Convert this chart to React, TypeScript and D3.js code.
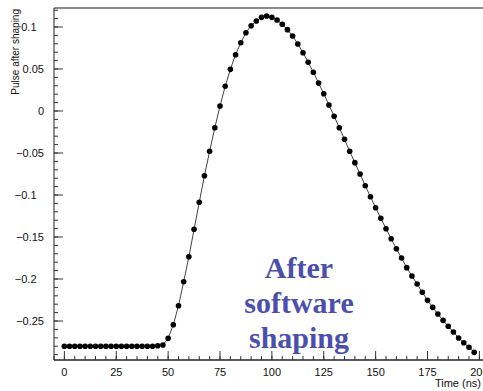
import React from "react";
import * as d3 from "d3";

const times: number[] = [
  0, 2.5, 5, 7.5, 10, 12.5, 15, 17.5, 20, 22.5, 25, 27.5, 30, 32.5, 35, 37.5, 40, 42.5,
  45, 47.5, 50, 52.5, 55, 57.5, 60, 62.5, 65, 67.5, 70, 72.5, 75, 77.5, 80, 82.5, 85, 87.5,
  90, 92.5, 95, 97.5, 100, 102.5, 105, 107.5, 110, 112.5, 115, 117.5, 120, 122.5, 125, 127.5,
  130, 132.5, 135, 137.5, 140, 142.5, 145, 147.5, 150, 152.5, 155, 157.5, 160, 162.5, 165,
  167.5, 170, 172.5, 175, 177.5, 180, 182.5, 185, 187.5, 190, 192.5, 195, 197.5,
];

const pulse: number[] = [
  -0.28, -0.28, -0.28, -0.28, -0.28, -0.28, -0.28, -0.28, -0.28, -0.28, -0.28, -0.28, -0.28,
  -0.28, -0.28, -0.28, -0.28, -0.28,
  -0.2795, -0.2786, -0.2706, -0.2544, -0.2318, -0.2032, -0.1735, -0.1408, -0.1087, -0.077,
  -0.048, -0.0199, 0.006, 0.0294, 0.0496, 0.067, 0.0813, 0.0932, 0.1015, 0.1071, 0.1115,
  0.113, 0.1115, 0.1083, 0.1032, 0.0968, 0.0893, 0.0798, 0.0694, 0.058, 0.0461, 0.0333,
  0.0206, 0.0071, -0.0063, -0.0199, -0.0337, -0.048, -0.0615, -0.075, -0.0889, -0.102,
  -0.1151, -0.1277, -0.1401, -0.152, -0.164, -0.175, -0.1865, -0.1964, -0.206, -0.2158,
  -0.2254, -0.2337, -0.2417, -0.2492, -0.2563, -0.2631, -0.2702, -0.2758, -0.2813, -0.2873,
];

const xMajorTicks: number[] = [0, 25, 50, 75, 100, 125, 150, 175, 200];
const yMajorTicks: number[] = [0.1, 0.05, 0, -0.05, -0.1, -0.15, -0.2, -0.25];
const yTickLabels: string[] = ["0.1", "0.05", "0", "\u22120.05", "\u22120.1", "\u22120.15", "\u22120.2", "\u22120.25"];
const annotation: string[] = ["After", "software", "shaping"];

const W = 483;
const H = 391;
const L = 54;
const T = 8;
const B = 360;

export default function App() {
  const x = d3.scaleLinear().domain([-5, 205]).range([L, L + 210 * 2.075]);
  const y = d3.scaleLinear().domain([-0.2964, 0.1226]).range([B, T]);
  const line = d3
    .line<number>()
    .x((_, i) => x(times[i]))
    .y((d) => y(d));

  const xMinor = d3.range(-5, 206, 5).filter((t) => x(t) <= W + 1);
  const yMinor = d3.range(-29, 13, 1).map((v) => v / 100);

  const font = "'Liberation Sans', Arial, sans-serif";

  return (
    <svg
      width={W}
      height={H}
      style={{ position: "absolute", left: 0, top: 0, background: "#fff" }}
    >
      <rect x={0} y={0} width={W} height={H} fill="#fff" />
      {/* frame */}
      <line x1={L} x2={W} y1={T} y2={T} stroke="#8a8a8a" strokeWidth={2} />
      <line x1={L} x2={L} y1={T} y2={B} stroke="#222" strokeWidth={1} />
      <line x1={L} x2={W} y1={B} y2={B} stroke="#222" strokeWidth={1.3} />

      {/* y ticks */}
      {yMinor.map((v, i) => (
        <line key={"ym" + i} x1={L} x2={L + 4} y1={y(v)} y2={y(v)} stroke="#333" strokeWidth={1} />
      ))}
      {yMajorTicks.map((v, i) => (
        <line key={"yM" + i} x1={L} x2={L + 9} y1={y(v)} y2={y(v)} stroke="#333" strokeWidth={1} />
      ))}
      {yMajorTicks.map((v, i) => {
        const lbl = yTickLabels[i];
        const dec = lbl.includes(".") ? lbl.split(".")[1].length : 2;
        return (
          <text
            key={"yl" + i}
            x={44 - (dec === 1 ? 7.5 : 0)}
            y={y(v) + 4}
            textAnchor="end"
            fontFamily={font}
            fontSize={11}
            fill="#111"
          >
            {lbl}
          </text>
        );
      })}

      {/* x ticks */}
      {xMinor.map((t, i) => (
        <line key={"xm" + i} x1={x(t)} x2={x(t)} y1={B} y2={B - 4} stroke="#333" strokeWidth={1} />
      ))}
      {xMajorTicks.map((t, i) => (
        <line key={"xM" + i} x1={x(t)} x2={x(t)} y1={B} y2={B - 9} stroke="#333" strokeWidth={1} />
      ))}
      {xMajorTicks.map((t, i) => (
        <text
          key={"xl" + i}
          x={x(t)}
          y={376}
          textAnchor="middle"
          fontFamily={font}
          fontSize={11}
          fill="#111"
        >
          {String(t)}
        </text>
      ))}

      {/* axis titles */}
      <text x={481} y={387} textAnchor="end" fontFamily={font} fontSize={11} fill="#111">
        Time (ns)
      </text>
      <text
        transform={`translate(19,9) rotate(-90)`}
        textAnchor="end"
        fontFamily={font}
        fontSize={10}
        fill="#111"
      >
        Pulse after shaping
      </text>

      {/* curve */}
      <path d={line(pulse) || ""} fill="none" stroke="#444" strokeWidth={1} />
      {pulse.map((v, i) => (
        <circle key={"p" + i} cx={x(times[i])} cy={y(v)} r={2.8} fill="#000" />
      ))}

      {/* annotation */}
      {annotation.map((s, i) => (
        <text
          key={"a" + i}
          x={299}
          y={278 + i * 35}
          textAnchor="middle"
          fontFamily="'Liberation Serif', 'Times New Roman', serif"
          fontWeight="bold"
          fontSize={30}
          fill="#4a4fae"
        >
          {s}
        </text>
      ))}
    </svg>
  );
}
